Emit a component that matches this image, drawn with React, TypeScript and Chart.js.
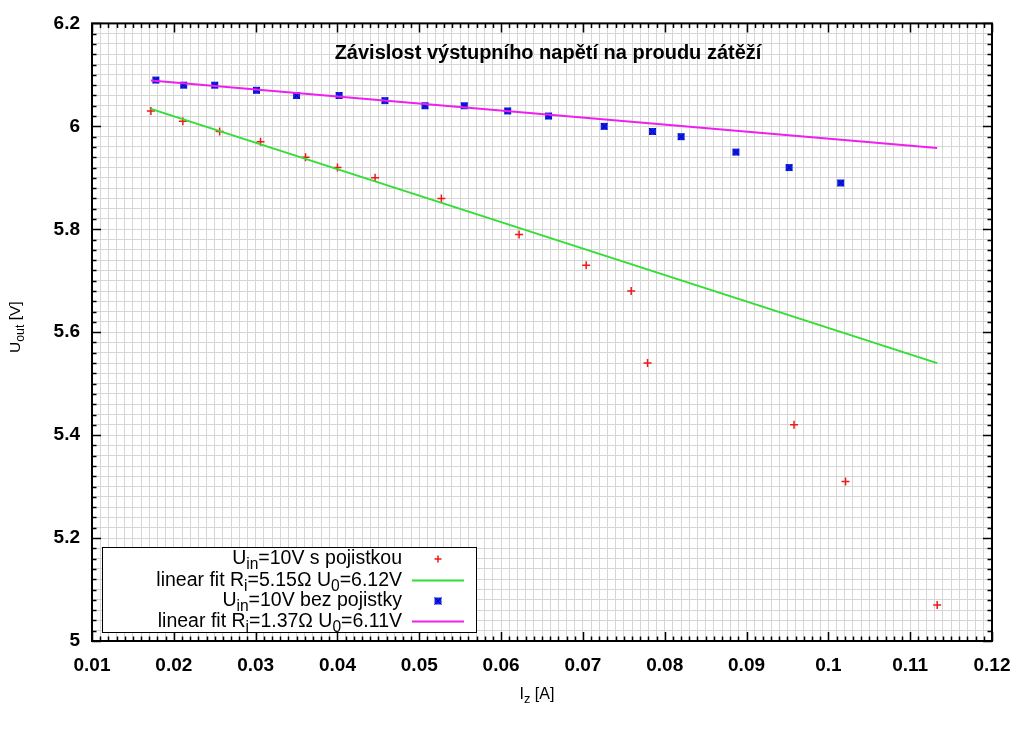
import React, { useEffect, useRef } from 'react';
import { Chart, registerables } from 'chart.js';

Chart.register(...registerables);

// ---- data ----
const redX = [0.0172, 0.0211, 0.0256, 0.0306, 0.0361, 0.0400, 0.0446, 0.0527, 0.0622, 0.0704, 0.0759, 0.0779, 0.0958, 0.1021, 0.1133];
const redY = [6.03, 6.01, 5.99, 5.97, 5.94, 5.92, 5.90, 5.86, 5.79, 5.73, 5.68, 5.54, 5.42, 5.31, 5.07];

const blueX = [0.0178, 0.0212, 0.0250, 0.0301, 0.0350, 0.0402, 0.0458, 0.0507, 0.0555, 0.0608, 0.0658, 0.0726, 0.0785, 0.0820, 0.0887, 0.0952, 0.1015];
const blueY = [6.09, 6.08, 6.08, 6.07, 6.06, 6.06, 6.05, 6.04, 6.04, 6.03, 6.02, 6.00, 5.99, 5.98, 5.95, 5.92, 5.89];

const greenFitX = [0.0172, 0.1133];
const greenFitY = [6.034, 5.540];
const magentaFitX = [0.0172, 0.1133];
const magentaFitY = [6.089, 5.958];

const xTickValues = [0.01, 0.02, 0.03, 0.04, 0.05, 0.06, 0.07, 0.08, 0.09, 0.1, 0.11, 0.12];
const xTickLabels = ['0.01', '0.02', '0.03', '0.04', '0.05', '0.06', '0.07', '0.08', '0.09', '0.1', '0.11', '0.12'];
const yTickValues = [5, 5.2, 5.4, 5.6, 5.8, 6, 6.2];
const yTickLabels = ['5', '5.2', '5.4', '5.6', '5.8', '6', '6.2'];

const titleText = 'Závislost výstupního napětí na proudu zátěží';

type Seg = { t: string; sub?: boolean };
const yTitle: Seg[] = [{ t: 'U' }, { t: 'out', sub: true }, { t: ' [V]' }];
const xTitle: Seg[] = [{ t: 'I' }, { t: 'z', sub: true }, { t: ' [A]' }];

const legendLabels: Seg[][] = [
  [{ t: 'U' }, { t: 'in', sub: true }, { t: '=10V s pojistkou' }],
  [{ t: 'linear fit R' }, { t: 'i', sub: true }, { t: '=5.15Ω U' }, { t: '0', sub: true }, { t: '=6.12V' }],
  [{ t: 'U' }, { t: 'in', sub: true }, { t: '=10V bez pojistky' }],
  [{ t: 'linear fit R' }, { t: 'i', sub: true }, { t: '=1.37Ω U' }, { t: '0', sub: true }, { t: '=6.11V' }],
];

const RED = '#f01818';
const GREEN = '#33dd33';
const BLUE = '#1020ee';
const MAGENTA = '#ee20ee';
const FONT = '"Liberation Sans", Arial, sans-serif';

function minorValues(majors: number[], sub: number): number[] {
  const out: number[] = [];
  for (let i = 0; i < majors.length - 1; i++) {
    const a = majors[i];
    const b = majors[i + 1];
    for (let k = 0; k < sub; k++) out.push(a + ((b - a) * k) / sub);
  }
  out.push(majors[majors.length - 1]);
  return out;
}

function labelFor(v: number, vals: number[], labels: string[]): string {
  for (let i = 0; i < vals.length; i++) if (Math.abs(vals[i] - v) < 1e-9) return labels[i];
  return '';
}

function segWidth(ctx: CanvasRenderingContext2D, segs: Seg[], size: number): number {
  let w = 0;
  for (const s of segs) {
    ctx.font = `${s.sub ? size * 0.8 : size}px ${FONT}`;
    w += ctx.measureText(s.t).width;
  }
  return w;
}

function drawSegs(ctx: CanvasRenderingContext2D, segs: Seg[], x: number, y: number, size: number) {
  let cx = x;
  ctx.textBaseline = 'middle';
  ctx.textAlign = 'left';
  for (const s of segs) {
    const fs = s.sub ? size * 0.8 : size;
    ctx.font = `${fs}px ${FONT}`;
    ctx.fillText(s.t, cx, s.sub ? y + size * 0.3 : y);
    cx += ctx.measureText(s.t).width;
  }
}

const gnuplotPlugin = {
  id: 'gnuplotDecor',
  afterDraw(chart: any) {
    const ctx: CanvasRenderingContext2D = chart.ctx;
    const { left, right, top, bottom } = chart.chartArea;
    const xs = chart.scales.x;
    const ys = chart.scales.y;
    ctx.save();
    // inward ticks on all sides
    ctx.strokeStyle = '#000';
    ctx.lineWidth = 1.5;
    const xMinor = minorValues(xTickValues, 10);
    xMinor.forEach((v, i) => {
      const len = i % 10 === 0 ? 9 : 4.5;
      const px = Math.round(xs.getPixelForValue(v)) + 0.5;
      ctx.beginPath();
      ctx.moveTo(px, bottom);
      ctx.lineTo(px, bottom - len);
      ctx.moveTo(px, top);
      ctx.lineTo(px, top + len);
      ctx.stroke();
    });
    const yMinor = minorValues(yTickValues, 10);
    yMinor.forEach((v, i) => {
      const len = i % 10 === 0 ? 9 : 4.5;
      const py = Math.round(ys.getPixelForValue(v)) + 0.5;
      ctx.beginPath();
      ctx.moveTo(left, py);
      ctx.lineTo(left + len, py);
      ctx.moveTo(right, py);
      ctx.lineTo(right - len, py);
      ctx.stroke();
    });
    // border
    ctx.lineWidth = 2;
    ctx.strokeRect(left, top, right - left, bottom - top);

    // title inside plot
    ctx.fillStyle = '#000';
    ctx.font = `bold 20px ${FONT}`;
    ctx.textAlign = 'center';
    ctx.textBaseline = 'alphabetic';
    ctx.fillText(titleText, (left + right) / 2 + 6, top + 36);

    // axis titles
    const ySize = 15.5;
    const yw = segWidth(ctx, yTitle, ySize);
    ctx.save();
    ctx.translate(16, (top + bottom) / 2 - 5);
    ctx.rotate(-Math.PI / 2);
    drawSegs(ctx, yTitle, -yw / 2, 0, ySize);
    ctx.restore();
    const xSize = 16;
    const xw = segWidth(ctx, xTitle, xSize);
    drawSegs(ctx, xTitle, (left + right) / 2 - 5 - xw / 2, bottom + 54, xSize);

    // legend
    const bx = left + 10;
    const by = bottom - 94;
    const bw = 374;
    const bh = 85;
    ctx.fillStyle = '#fff';
    ctx.fillRect(bx, by, bw, bh);
    ctx.strokeStyle = '#000';
    ctx.lineWidth = 1;
    ctx.strokeRect(bx + 0.5, by + 0.5, bw, bh);
    const lsize = 19.5;
    const textRight = bx + 300;
    const rows = [by + 12, by + 33.5, by + 54, by + 74.5];
    legendLabels.forEach((segs, i) => {
      ctx.fillStyle = '#000';
      const w = segWidth(ctx, segs, lsize);
      drawSegs(ctx, segs, textRight - w, rows[i], lsize);
      const sx0 = textRight + 10;
      const sx1 = textRight + 62;
      const cy = rows[i];
      const cx = (sx0 + sx1) / 2;
      if (i === 0) {
        ctx.strokeStyle = RED;
        ctx.lineWidth = 1.5;
        ctx.beginPath();
        ctx.moveTo(cx - 3.5, cy);
        ctx.lineTo(cx + 3.5, cy);
        ctx.moveTo(cx, cy - 3.5);
        ctx.lineTo(cx, cy + 3.5);
        ctx.stroke();
      } else if (i === 2) {
        ctx.fillStyle = BLUE;
        ctx.fillRect(cx - 3.5, cy - 3.5, 7, 7);
        ctx.strokeStyle = '#0000a0';
        ctx.lineWidth = 1;
        ctx.beginPath();
        ctx.moveTo(cx - 3.5, cy - 3.5);
        ctx.lineTo(cx + 3.5, cy + 3.5);
        ctx.moveTo(cx + 3.5, cy - 3.5);
        ctx.lineTo(cx - 3.5, cy + 3.5);
        ctx.stroke();
      } else {
        ctx.strokeStyle = i === 1 ? GREEN : MAGENTA;
        ctx.lineWidth = 2;
        ctx.beginPath();
        ctx.moveTo(sx0, cy);
        ctx.lineTo(sx1, cy);
        ctx.stroke();
      }
    });
    ctx.restore();
  },
};

function makeStar(): HTMLCanvasElement {
  const c = document.createElement('canvas');
  c.width = 9;
  c.height = 9;
  const g = c.getContext('2d')!;
  g.fillStyle = BLUE;
  g.fillRect(1, 1, 7, 7);
  g.strokeStyle = '#0000a0';
  g.lineWidth = 1;
  g.beginPath();
  g.moveTo(1, 1);
  g.lineTo(8, 8);
  g.moveTo(8, 1);
  g.lineTo(1, 8);
  g.stroke();
  return c;
}

export default function App() {
  const ref = useRef<HTMLCanvasElement | null>(null);
  useEffect(() => {
    if (!ref.current) return;
    const star = makeStar();
    const toPts = (xs: number[], ys: number[]) => xs.map((x, i) => ({ x, y: ys[i] }));
    const chart = new Chart(ref.current, {
      type: 'scatter',
      data: {
        datasets: [
          {
            label: 'red',
            data: toPts(redX, redY),
            pointStyle: 'cross',
            pointRadius: 4,
            borderColor: RED,
            backgroundColor: RED,
            pointBorderWidth: 1.5,
            showLine: false,
            order: 4,
          } as any,
          {
            label: 'green',
            data: toPts(greenFitX, greenFitY),
            showLine: true,
            pointRadius: 0,
            borderColor: GREEN,
            borderWidth: 2,
            order: 3,
          } as any,
          {
            label: 'blue',
            data: toPts(blueX, blueY),
            pointStyle: star,
            pointRadius: 4,
            showLine: false,
            order: 2,
          } as any,
          {
            label: 'magenta',
            data: toPts(magentaFitX, magentaFitY),
            showLine: true,
            pointRadius: 0,
            borderColor: MAGENTA,
            borderWidth: 2,
            order: 1,
          } as any,
        ],
      },
      options: {
        animation: false,
        responsive: false,
        events: [],
        layout: { padding: { left: 0, top: 22, right: 32, bottom: 0 } },
        plugins: { legend: { display: false }, tooltip: { enabled: false }, title: { display: false } },
        scales: {
          x: {
            type: 'linear',
            min: 0.01,
            max: 0.12,
            afterBuildTicks: (s: any) => {
              s.ticks = minorValues(xTickValues, 10).map((v) => ({ value: v }));
            },
            afterFit: (s: any) => {
              s.height = 91;
            },
            ticks: {
              autoSkip: false,
              maxRotation: 0,
              padding: 13,
              color: '#000',
              font: { family: FONT, size: 19, weight: 'bold' },
              callback: (v: any) => labelFor(Number(v), xTickValues, xTickLabels),
            },
            grid: { color: '#d6d6d6', lineWidth: 1, drawTicks: false },
            border: { display: false },
          },
          y: {
            type: 'linear',
            min: 5,
            max: 6.2,
            afterBuildTicks: (s: any) => {
              s.ticks = minorValues(yTickValues, 10).map((v) => ({ value: v }));
            },
            afterFit: (s: any) => {
              s.width = 92;
            },
            ticks: {
              autoSkip: false,
              padding: 12,
              color: '#000',
              font: { family: FONT, size: 19, weight: 'bold' },
              callback: (v: any) => labelFor(Number(v), yTickValues, yTickLabels),
            },
            grid: { color: '#d6d6d6', lineWidth: 1, drawTicks: false },
            border: { display: false },
          },
        },
      },
      plugins: [gnuplotPlugin],
    } as any);
    return () => chart.destroy();
  }, []);
  return (
    <div style={{ position: 'absolute', left: 0, top: 0, width: 1024, height: 732, background: '#fff' }}>
      <canvas ref={ref} width={1024} height={732} style={{ display: 'block' }} />
    </div>
  );
}
